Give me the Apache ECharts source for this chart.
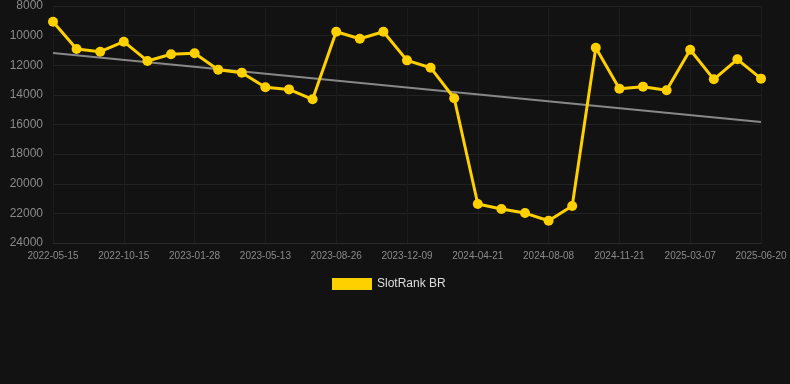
<!DOCTYPE html>
<html>
<head>
<meta charset="utf-8">
<script src="https://cdn.jsdelivr.net/npm/echarts@6/dist/echarts.min.js"></script>
<style>html,body{margin:0;padding:0;background:#121212;}#c{width:790px;height:384px;}</style>
</head>
<body>
<div id="c"></div>
<script>
var categories = ["2022-05-15","2022-07-01","2022-08-20","2022-10-15","2022-11-20","2022-12-24","2023-01-28","2023-03-04","2023-04-08","2023-05-13","2023-06-17","2023-07-22","2023-08-26","2023-09-30","2023-11-04","2023-12-09","2024-01-20","2024-03-02","2024-04-21","2024-05-26","2024-07-02","2024-08-08","2024-09-12","2024-10-17","2024-11-21","2024-12-26","2025-01-30","2025-03-07","2025-04-11","2025-05-16","2025-06-20"];
var rankValues = [9060,10900,11085,10410,11710,11260,11195,12300,12500,13490,13630,14300,9735,10210,9735,11670,12165,14230,21370,21710,21980,22500,21505,10815,13580,13445,13690,10950,12950,11600,12905];
var seriesName = "SlotRank BR";

// linear regression trend
var n = rankValues.length, sx=0, sy=0, sxy=0, sxx=0;
for (var i=0;i<n;i++){sx+=i;sy+=rankValues[i];sxy+=i*rankValues[i];sxx+=i*i;}
var slope=(n*sxy-sx*sy)/(n*sxx-sx*sx), icpt=(sy-slope*sx)/n;
var trend = rankValues.map(function(_,i){return (i===0||i===n-1)? icpt+slope*i : null;});

var chart = echarts.init(document.getElementById('c'));
chart.setOption({
  backgroundColor:'#121212',
  animation:false,
  grid:{left:53,right:29,top:6,bottom:141},
  legend:{top:273,left:327,itemWidth:40,itemHeight:12,itemGap:10,
    textStyle:{color:'#dddddd',fontSize:12,fontFamily:'Arial, Liberation Sans, sans-serif'},
    data:[{name:seriesName,icon:'rect'}]},
  xAxis:{type:'category',data:categories,boundaryGap:false,
    axisLine:{show:true,lineStyle:{color:'#2a2a2a'}},
    axisTick:{show:false},
    axisLabel:{interval:2,color:'#8a8a8a',fontSize:10,margin:8,fontFamily:'Arial, Liberation Sans, sans-serif'},
    splitLine:{show:true,interval:2,lineStyle:{color:'#1c1c1c'}}},
  yAxis:{type:'value',inverse:true,min:8000,max:24000,interval:2000,
    axisLine:{show:false},axisTick:{show:false},
    axisLabel:{color:'#8a8a8a',fontSize:12,margin:10,fontFamily:'Arial, Liberation Sans, sans-serif',
      formatter:function(v){return String(v);}},
    splitLine:{lineStyle:{color:'#222222'}}},
  series:[
    {name:seriesName,type:'line',data:rankValues,symbol:'circle',symbolSize:10,
      itemStyle:{color:'#FFD000'},lineStyle:{color:'#FFD000',width:3},z:3},
    {name:'trend',type:'line',data:trend,connectNulls:true,symbol:'none',
      lineStyle:{color:'#888888',width:2},z:2,silent:true}
  ]
});
</script>
</body>
</html>
